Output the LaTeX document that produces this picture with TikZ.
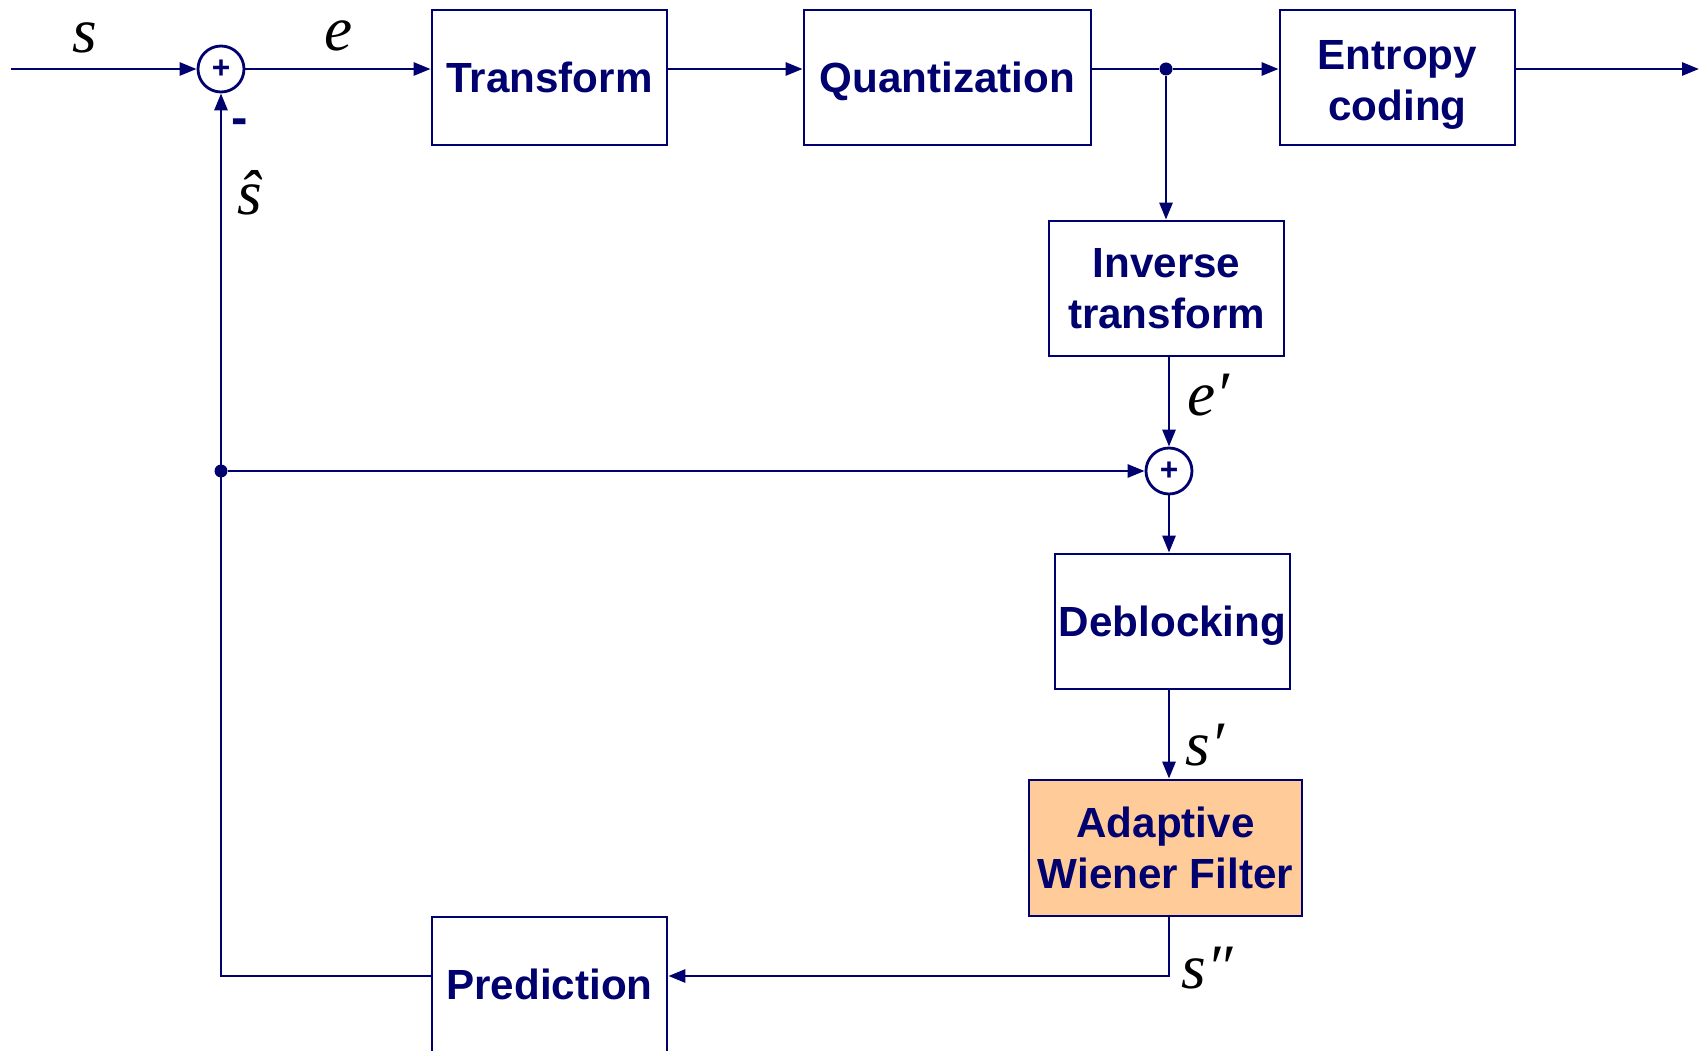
\documentclass[tikz,border=0pt]{standalone}
\usepackage{fontspec}
\setmainfont{Liberation Sans}
\newfontfamily\sigfont{Liberation Serif}[ItalicFont={Liberation Serif Italic}]
\usetikzlibrary{arrows.meta,positioning,calc}
\definecolor{navy}{RGB}{0,0,110}
\definecolor{peach}{RGB}{255,204,153}

\begin{document}
\begin{tikzpicture}[
  block/.style={rectangle, draw=navy, line width=0.8pt, minimum width=2.35cm,
                minimum height=1.35cm, align=center, inner sep=0pt,
                font=\fontsize{12}{14.5}\selectfont\bfseries, text=navy},
  oneline/.style={text depth=0pt},
  adder/.style={circle, draw=navy, line width=0.8pt, minimum size=0.46cm,
                inner sep=0pt, font=\fontsize{9}{9}\selectfont\bfseries,
                text=navy},
  sig/.style={font=\fontsize{18}{20}\selectfont\sigfont\itshape, text=black},
  junction/.style={circle, fill=navy, minimum size=0.13cm, inner sep=0pt},
  wire/.style={draw=navy, line width=0.8pt},
  edge/.style={wire, ->, >={Triangle[length=0.17cm, width=0.13cm]}},
]
  \useasboundingbox (0,0) rectangle (16.99,-10.51);
  \clip (0,0) rectangle (16.99,-10.51);

  % ========= FORWARD PATH =========
  \coordinate (in) at (0.11,-0.69);
  \coordinate (out) at (16.99,-0.69);
  \node[adder] (sum1) at (2.21,-0.69) {+};
  \node[block, oneline] (transform) at (5.495,-0.775) {Transform};
  \node[block, oneline, minimum width=2.87cm] (quant) at (9.475,-0.775)
       {Quantization};
  \node[block] (entropy) at (13.975,-0.775) {\rule{0pt}{0.44cm}Entropy\\coding};
  \node[junction] (tap) at (11.66,-0.69) {};

  % ========= RECONSTRUCTION LOOP =========
  \node[block] (invt) at (11.665,-2.885) {Inverse\\transform};
  \node[adder] (sum2) at (11.69,-4.71) {+};
  \node[block, oneline] (deblock) at (11.725,-6.215) {Deblocking};
  \node[block, fill=peach, minimum width=2.73cm, minimum height=1.36cm]
       (awf) at (11.655,-8.48) {Adaptive\\Wiener Filter};
  \node[block, oneline] (pred) at (5.495,-9.845) {Prediction};
  \node[junction] (fb) at (2.21,-4.71) {};
  \coordinate (lowline) at (0,-9.76);

  % Signal labels
  \node[sig] (lbls) at (0.85,-0.38) {s};
  \node[sig] (lble) at (3.39,-0.36) {e};
  \node[font=\fontsize{14}{14}\selectfont\bfseries, text=navy] (minus)
       at (2.40,-1.27) {-};
  \node[sig] (lblshat) at (2.50,-1.93) {\^{s}};
  \node[sig] (lbleprime) at (12.08,-3.95) {e′};
  \node[sig] (lblsprime) at (12.05,-7.45) {s′};
  \node[sig] (lblsdprime) at (12.07,-9.68) {s″};

  % Edges on forward path
  \draw[edge] (in) -- (sum1.west);
  \draw[edge] (sum1.east) -- (sum1.east -| transform.west);
  \draw[edge] (sum1.east -| transform.east) -- (sum1.east -| quant.west);
  \draw[wire] (sum1.east -| quant.east) -- (tap);
  \draw[edge] (tap) -- (tap -| entropy.west);
  \draw[edge] (sum1.east -| entropy.east) -- (out);

  % Edges in reconstruction loop
  \draw[edge] (tap) -- (tap |- invt.north);
  \draw[edge] (sum2 |- invt.south) -- (sum2.north);
  \draw[edge] (fb) -- (sum2.west);
  \draw[edge] (sum2.south) -- (sum2 |- deblock.north);
  \draw[edge] (sum2 |- deblock.south) -- (sum2 |- awf.north);
  \draw[edge] (sum2 |- awf.south) |- (pred.east |- lowline);
  \draw[edge] (pred.west |- lowline) -| (sum1.south);

\end{tikzpicture}
\end{document}
